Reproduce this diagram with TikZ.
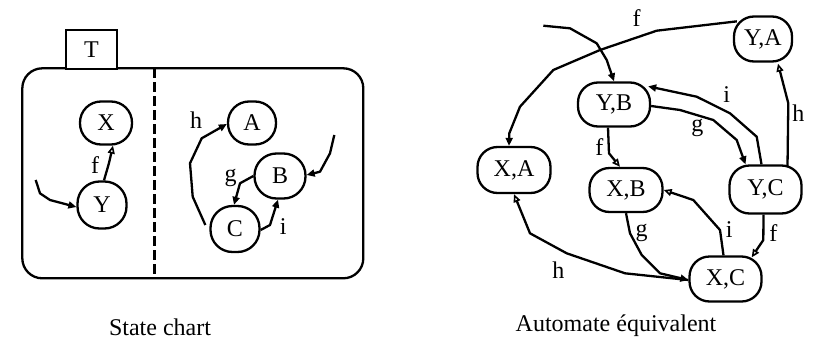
\documentclass[tikz,border=0pt]{standalone}
\usepackage{fontspec}
\setmainfont{Liberation Serif}
\usetikzlibrary{arrows.meta,calc}
\begin{document}
\begin{tikzpicture}[x=1pt,y=-1pt,
  every node/.style={font=\fontsize{24}{28}\selectfont},
  st/.style={draw, line width=2.3pt, rounded corners=20pt, inner sep=0pt},
  lbl/.style={inner sep=0pt},
  conn/.style={line width=2.3pt, line join=round},
  arrF/.style={conn, -{Triangle[length=8pt,width=7pt]}},
  arrO/.style={conn, -{Triangle[open,length=8pt,width=7pt,line width=1.6pt,fill=white]}},
]
\useasboundingbox (0,0) rectangle (813,343);

% ---------- state chart ----------
\draw[line width=2.3pt, rounded corners=20pt] (22.3,68.3) rectangle (363.3,278.3);
\node[draw, line width=2.3pt, minimum width=51pt, minimum height=39pt, inner sep=0pt, fill=white]
  (T) at (91.5,49.5) {T};
\draw[line width=2.5pt, dash pattern=on 10pt off 4pt] (154.3,68.3) -- (154.3,278.3);

\node[st, rounded corners=21pt, minimum width=52pt, minimum height=43pt] (X) at (106,123) {X};
\node[st, rounded corners=22pt, minimum width=49pt, minimum height=47pt] (Y) at (102,205) {Y};
\node[st, rounded corners=21pt, minimum width=48pt, minimum height=43pt] (A) at (252,123) {A};
\node[st, rounded corners=22pt, minimum width=51pt, minimum height=45pt] (B) at (280,176) {B};
\node[st, rounded corners=22pt, minimum width=49pt, minimum height=46pt] (C) at (235,229) {C};

\coordinate (iY) at (35.7,180);
\coordinate (iB) at (334.3,135);
\draw[arrF] (iY) -- (40,193.3) -- (50,200) -- ($(Y.west)+(0,2)$);
\draw[arrO] ($(Y.north)+(2,0)$) -- (109,163) -- ($(X.south)+(7,0)$);
\draw[arrF] ($(C.west)+(-4,-4)$) -- (192.7,196.7) -- (190,163.3) -- (201.7,138.3) -- ($(A.west)+(0,1)$);
\draw[arrF] (B.west) -- (240,183.3) -- ($(C.north)+(-1,0)$);
\draw[arrF] ($(C.east)+(0,1)$) -- (270,225) -- ($(B.south)+(-2,0)$);
\draw[arrF] (iB) -- (330,153.3) -- (320,171.7) -- ($(B.east)+(0,-1)$);

\node[lbl] (lf) at (95,165) {f};
\node[lbl] (lh) at (196,120) {h};
\node[lbl] (lg) at (230.7,178) {g};
\node[lbl] (li) at (283.3,226.7) {i};

\node[anchor=base] (cap1) at (160,335) {State chart};

% ---------- equivalent automaton ----------
\node[st, minimum width=58pt, minimum height=45pt] (YA) at (763,39) {Y,A};
\node[st, minimum width=72pt, minimum height=44pt] (YB) at (614,104.5) {Y,B};
\node[st, minimum width=73pt, minimum height=46pt] (XA) at (514,170) {X,A};
\node[st, minimum width=73pt, minimum height=44pt] (XB) at (626,190) {X,B};
\node[st, minimum width=72pt, minimum height=48pt] (YC) at (765.5,189.5) {Y,C};
\node[st, minimum width=72pt, minimum height=45pt] (XC) at (725.5,279) {X,C};

\coordinate (iYB) at (543.3,25.7);
\draw[arrF] ($(YA.north west)+(4,6)$) -- (656.7,30.7) -- (600,50) -- (553.3,70) -- (520,106.7) -- (509.3,133.3) -- ($(XA.north)+(-5,0)$);
\draw[arrF] (iYB) -- (570,28.3) -- (596.7,43.3) -- (606.7,60) -- (YB.north);
\draw[arrF] ($(YC.north)+(-4,0)$) -- (756.7,136.7) -- (730,113.3) -- (696.7,96.7) -- ($(YB.north east)+(-3,5)$);
\draw[arrF] ($(YB.east)+(0,1.5)$) -- (680,110) -- (713.3,120) -- (736.7,140) -- ($(YC.north)+(-20,0)$);
\draw[arrO] ($(YC.north)+(22,2)$) -- (788.3,103.3) -- ($(YA.south)+(15,1)$);
\draw[arrO] ($(YB.south)+(-6,0)$) -- (609,153.3) -- ($(XB.north)+(-6,0)$);
\draw[arrO] ($(YC.south)+(-2,0)$) -- (763.3,240) -- ($(XC.north east)+(-11,2)$);
\draw[arrO] ($(XC.north)+(-2,0)$) -- (720,230) -- (693.3,200) -- (XB.east);
\draw[arrF] (XB.south) -- (630,233.3) -- (641.7,255) -- (660,273.3) -- ($(XC.west)+(0,1)$);
\draw[arrO] ($(XC.west)+(0,1)$) -- (625,273.3) -- (566.7,253.3) -- (530,233.3) -- (XA.south);

\node[lbl] (rf1) at (636.7,18.3) {f};
\node[lbl] (ri1) at (726.7,95) {i};
\node[lbl] (rg1) at (697.3,128.3) {g};
\node[lbl] (rh1) at (798.3,113.3) {h};
\node[lbl] (rf2) at (599.3,146.7) {f};
\node[lbl] (rf3) at (773.3,233.3) {f};
\node[lbl] (ri2) at (729.3,230) {i};
\node[lbl] (rg2) at (641.7,233.3) {g};
\node[lbl] (rh2) at (558.3,270) {h};

\node[anchor=base] (cap2) at (616,331.5) {Automate équivalent};
\end{tikzpicture}
\end{document}
